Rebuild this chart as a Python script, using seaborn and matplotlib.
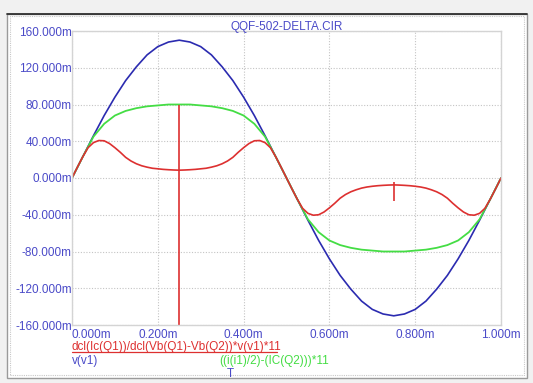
import numpy as np
import pandas as pd
import matplotlib.pyplot as plt
import seaborn as sns
from matplotlib.patches import Rectangle
from matplotlib.lines import Line2D

# time in ms, sampled every 0.025 ms
t_ms = [i * 0.025 for i in range(41)]

v_v1 = [0, 23, 46, 68, 88, 106, 121, 134, 143, 148, 150, 148, 143, 134, 121, 106, 88, 68, 46, 23,
        0, -23, -46, -68, -88, -106, -121, -134, -143, -148, -150, -148, -143, -134, -121, -106, -88, -68, -46, -23, 0]

i_diff = [0, 23, 45, 59, 68, 73, 76, 78, 79, 80, 80, 80, 79, 78, 76, 73, 68, 59, 45, 23,
          0, -23, -45, -59, -68, -73, -76, -78, -79, -80, -80, -80, -79, -78, -76, -73, -68, -59, -45, -23, 0]

# red trace read at a finer step (0.0125 ms) because of its sharp humps
t_fine = [i * 0.0125 for i in range(81)]
dcl_prod = [0, 11.7, 23, 33, 38.5, 40.8, 40.5, 37.5, 33, 28, 22.5, 18.5, 15.5, 13.3, 11.8, 10.6,
            10, 9.4, 9, 8.7, 8.5, 8.7, 9, 9.4, 10, 10.6, 11.8, 13.3, 15.5, 18.5, 22.5, 28,
            33, 37.5, 40.5, 40.8, 38.5, 33, 23, 11.7,
            0, -11.7, -23, -33, -38.5, -40.5, -40, -37, -32.5, -27.5, -22, -18, -15, -12.8, -11, -9.8,
            -9, -8.4, -8, -7.7, -7.5, -7.7, -8, -8.4, -9, -9.8, -11, -12.8, -15, -18, -22, -27.5,
            -32.5, -37, -40, -40.5, -38.5, -33, -23, -11.7, 0]

# cursor markers on the red trace
cursor_t = [0.25, 0.75]
cursor_top = [80, -4]
cursor_bottom = [-160, -25]

y_ticks = [160, 120, 80, 40, 0, -40, -80, -120, -160]
x_ticks = [0.0, 0.2, 0.4, 0.6, 0.8, 1.0]

BLUE = '#2b2bb0'
GREEN = '#44dd44'
RED = '#dd3030'
LABEL = '#4a4ac8'

sns.set_style('white')
plt.rcParams['font.family'] = ['Liberation Sans', 'DejaVu Sans']

fig = plt.figure(figsize=(5.33, 3.83), dpi=100, facecolor='#f1f1f1')
W, H = 533, 383

# white "window" panel
fig.patches.append(Rectangle((7 / W, 1 - 378 / H), 520 / W, 364 / H, transform=fig.transFigure,
                             facecolor='white', edgecolor='#9a9a9a', linewidth=1.0, zorder=-5))
fig.patches.append(Rectangle((10 / W, 1 - 375 / H), 514 / W, 359 / H, transform=fig.transFigure,
                             facecolor='none', edgecolor='#c8c8c8', linewidth=0.8,
                             linestyle=(0, (1, 1)), zorder=-4))
fig.add_artist(Line2D([7 / W, 527 / W], [1 - 14 / H, 1 - 14 / H], transform=fig.transFigure,
                      color='#303030', linewidth=1.3, zorder=-3))

ax = fig.add_axes([72 / W, 1 - 325 / H, 429 / W, 294 / H])
ax.set_facecolor('white')

sns.lineplot(x=t_ms, y=v_v1, color=BLUE, linewidth=1.2, ax=ax, sort=False, estimator=None)
sns.lineplot(x=t_ms, y=i_diff, color=GREEN, linewidth=1.3, ax=ax, sort=False, estimator=None)
sns.lineplot(x=t_fine, y=dcl_prod, color=RED, linewidth=1.2, ax=ax, sort=False, estimator=None)
ax.vlines(cursor_t, cursor_bottom, cursor_top, color=RED, linewidth=1.2)

ax.set_xlim(0, 1)
ax.set_ylim(-160, 160)
ax.set_xticks(x_ticks)
ax.set_yticks(y_ticks)
ax.set_xticklabels([f'{v:.3f}m' for v in x_ticks])
ax.set_yticklabels([f'{v:.3f}m' for v in y_ticks])
ax.tick_params(axis='both', length=0, labelsize=8.5, labelcolor=LABEL)
ax.tick_params(axis='y', pad=0)
ax.tick_params(axis='x', pad=3)
ax.get_xticklabels()[0].set_horizontalalignment('left')
ax.grid(True, color='#c4c4c4', linestyle=(0, (1, 1.5)), linewidth=0.8)
for s in ax.spines.values():
    s.set_color('#d4d4d4')
    s.set_linewidth(1.0)

ax.set_title('QQF-502-DELTA.CIR', color=LABEL, fontsize=8.5, pad=1)

fig.text(72 / W, 1 - 347 / H, 'dcl(Ic(Q1))/dcl(Vb(Q1)-Vb(Q2))*v(v1)*11', color=RED, fontsize=8.5,
         va='center', ha='left')
fig.add_artist(Line2D([72 / W, 277 / W], [1 - 352 / H, 1 - 352 / H], transform=fig.transFigure,
                      color=RED, linewidth=0.9))
fig.text(72 / W, 1 - 361 / H, 'v(v1)', color=LABEL, fontsize=8.5, va='center', ha='left')
fig.text(219 / W, 1 - 361 / H, '((i(i1)/2)-(IC(Q2)))*11', color=GREEN, fontsize=8.5, va='center', ha='left')
fig.text(230 / W, 1 - 374 / H, 'T', color=LABEL, fontsize=8.5, va='center', ha='center')

fig.savefig('out.png', dpi=100, facecolor=fig.get_facecolor())
